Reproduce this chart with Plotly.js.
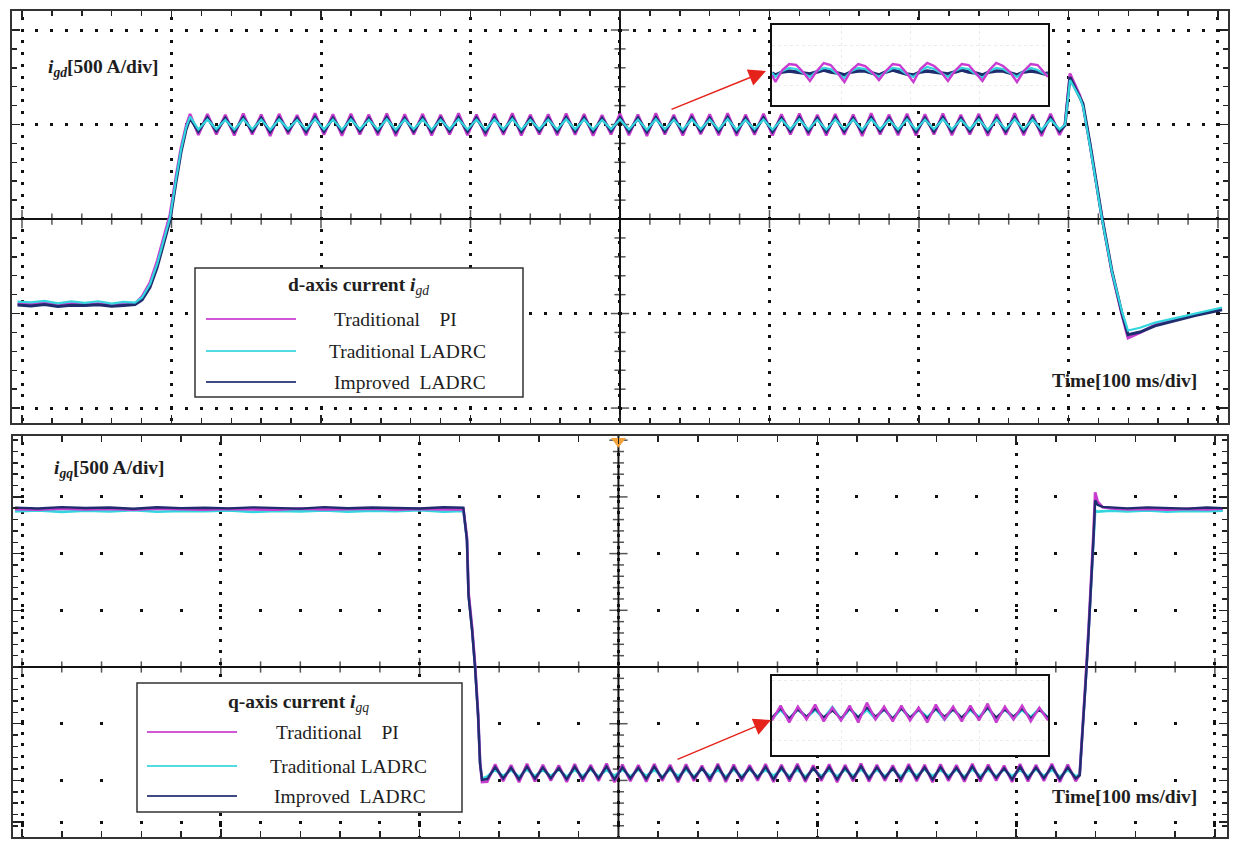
<!DOCTYPE html>
<html>
<head>
<meta charset="utf-8">
<script src="https://cdn.plot.ly/plotly-3.0.1.min.js"></script>
<style>
  html, body { margin: 0; padding: 0; background: #fff; }
  #chart { width: 1240px; height: 847px; }
</style>
</head>
<body>
<div id="chart"></div>
<script>
// Serie names / colours (legend order)
const seriesNames = ['Traditional    PI', 'Traditional LADRC', 'Improved  LADRC'];
const seriesColors = ['#c83cd0', '#33d6de', '#1f2c6e'];

// --- d-axis current, time in ms, current in A ---
const tTop = [
  -3, 6, 15, 24, 33, 42, 51, 60, 68, 75.6,
  80.3, 85.6, 90.3, 94.3, 99, 103, 106.4, 109.7, 112.4,
  118, 124, 130, 136, 142, 148, 154, 160, 166, 172,
  178, 184, 190, 196, 202, 208, 214, 220, 226, 232,
  238, 244, 250, 256, 262, 268, 274, 280, 286, 292,
  298, 304, 310, 316, 322, 328, 334, 340, 346, 352,
  358, 364, 370, 376, 382, 388, 394, 400, 406, 412,
  418, 424, 430, 436, 442, 448, 454, 460, 466, 472,
  478, 484, 490, 496, 502, 508, 514, 520, 526, 532,
  538, 544, 550, 556, 562, 568, 574, 580, 586, 592,
  598, 604, 610, 616, 622, 628, 634, 640, 646, 652,
  658, 664, 670, 676, 682, 688, 694,
  697.7, 701, 707.7, 709.7, 714.4, 722.4, 729.1, 735.8, 739.8, 747.8, 757.9, 769.9, 784.6, 802.7
];
const piTop = [
  -447, -452, -444, -455, -446, -450, -448, -453, -447, -448,
  -410, -335, -225, -110, 25, 225, 380, 492, 556,
  445, 555, 448, 551, 442, 558, 447, 553, 440, 556,
  449, 550, 444, 559, 446, 554, 441, 557, 448, 552,
  443, 558, 440, 554, 447, 556, 442, 551, 448, 559,
  444, 553, 440, 557, 446, 560, 442, 552, 448, 554,
  443, 558, 446, 556, 441, 550, 448, 557, 444, 553,
  440, 559, 447, 551, 442, 556, 449, 554, 443, 560,
  441, 552, 446, 557, 442, 554, 448, 558, 443, 551,
  442, 556, 446, 553, 440, 559, 448, 552, 444, 557,
  442, 554, 447, 558, 443, 551, 448, 556, 441, 554,
  446, 559, 443, 553, 440, 557, 445,
  505, 770, 652, 600, 390, 5, -285, -508, -630, -602, -560, -535, -505, -475
];
const ladrcTop = [
  -437, -441, -433, -446, -436, -443, -435, -447, -438, -442,
  -415, -345, -240, -125, 8, 210, 368, 483, 542,
  474, 527, 476, 525, 473, 528, 475, 526, 472, 527,
  477, 524, 474, 529, 475, 526, 473, 527, 476, 525,
  474, 528, 472, 526, 475, 527, 473, 525, 476, 528,
  474, 526, 472, 527, 475, 529, 473, 525, 476, 526,
  474, 528, 475, 527, 473, 524, 476, 527, 474, 526,
  472, 528, 475, 525, 473, 527, 476, 526, 474, 529,
  472, 525, 475, 527, 473, 526, 476, 528, 474, 525,
  473, 527, 475, 526, 472, 528, 476, 525, 474, 527,
  473, 526, 475, 528, 474, 525, 476, 527, 473, 526,
  475, 528, 474, 526, 472, 527, 475,
  500, 735, 640, 595, 385, 0, -280, -490, -590, -575, -548, -527, -500, -468
];
const impTop = [
  -455, -460, -452, -462, -456, -458, -454, -461, -457, -452,
  -428, -362, -258, -140, -8, 195, 355, 472, 533,
  463, 536, 465, 533, 462, 537, 464, 534, 461, 536,
  466, 532, 463, 538, 464, 534, 462, 536, 465, 533,
  463, 537, 461, 534, 464, 536, 462, 533, 465, 537,
  463, 534, 461, 536, 464, 538, 462, 533, 465, 534,
  463, 537, 464, 536, 462, 532, 465, 536, 463, 534,
  461, 537, 464, 533, 462, 536, 465, 534, 463, 538,
  461, 533, 464, 536, 462, 534, 465, 537, 463, 533,
  462, 536, 464, 534, 461, 537, 465, 533, 463, 536,
  462, 534, 464, 537, 463, 533, 465, 536, 462, 534,
  464, 537, 463, 534, 461, 536, 464,
  495, 750, 648, 610, 400, 10, -275, -500, -612, -598, -565, -540, -510, -480
];

// --- q-axis current ---
const tBot = [
  -3.5, 8, 20, 32, 44, 56, 68, 80, 92, 104,
  116, 128, 140, 152, 164, 176, 188, 200, 212, 222,
  223.8, 224.6, 226.4, 227.9, 229.4, 230.4, 231.4,
  234, 238, 242, 246, 250, 254, 258, 262, 266, 270,
  274, 278, 282, 286, 290, 294, 298, 302, 306, 310,
  314, 318, 322, 326, 330, 334, 338, 342, 346, 350,
  354, 358, 362, 366, 370, 374, 378, 382, 386, 390,
  394, 398, 402, 406, 410, 414, 418, 422, 426, 430,
  434, 438, 442, 446, 450, 454, 458, 462, 466, 470,
  474, 478, 482, 486, 490, 494, 498, 502, 506, 510,
  514, 518, 522, 526, 530,
  532, 533.5, 535, 536.5, 538, 539, 539.8, 541, 543.5, 548,
  556, 566, 576, 586, 596, 604
];
const piBot = [
  1392, 1388, 1396, 1390, 1394, 1387, 1397, 1391, 1389, 1395,
  1393, 1388, 1396, 1390, 1392, 1397, 1389, 1394, 1391, 1393,
  1140, 655, 345, 15, -410, -840, -1015,
  -1012, -858, -1006, -866, -1016, -854, -1009, -862, -1002, -868,
  -1014, -856, -1008, -864, -1004, -851, -1015, -860, -1007, -866,
  -1011, -855, -1003, -863, -1016, -858, -1005, -869, -1010, -853,
  -1013, -861, -1007, -865, -1001, -857, -1014, -862, -1008, -854,
  -1012, -867, -1004, -859, -1015, -864, -1006, -852, -1010, -862,
  -1003, -868, -1013, -856, -1007, -863, -1016, -858, -1005, -866,
  -1011, -854, -1008, -861, -1002, -869, -1014, -857, -1009, -864,
  -1004, -853, -1013, -860, -1007,
  -950, -560, -110, 340, 810, 1200, 1540, 1460, 1410, 1398,
  1390, 1395, 1388, 1394, 1391, 1396
];
const ladrcBot = [
  1372, 1380, 1368, 1378, 1371, 1383, 1369, 1376, 1374, 1381,
  1367, 1377, 1372, 1380, 1370, 1378, 1373, 1382, 1369, 1376,
  1130, 640, 330, 0, -420, -845, -985,
  -966, -905, -962, -908, -968, -903, -964, -907, -961, -904,
  -967, -906, -963, -902, -965, -908, -960, -905, -966, -903,
  -962, -907, -968, -904, -963, -906, -965, -902, -961, -908,
  -967, -905, -963, -903, -966, -907, -960, -904, -964, -906,
  -968, -902, -962, -908, -965, -905, -961, -903, -967, -906,
  -963, -904, -966, -908, -960, -902, -964, -907, -962, -905,
  -968, -903, -961, -906, -965, -904, -963, -907, -966, -902,
  -962, -905, -967, -908, -964,
  -945, -570, -130, 320, 790, 1170, 1380, 1370, 1375, 1378,
  1371, 1380, 1369, 1377, 1373, 1379
];
const impBot = [
  1405, 1398, 1410, 1402, 1407, 1396, 1409, 1401, 1404, 1399,
  1408, 1403, 1397, 1410, 1400, 1406, 1402, 1398, 1409, 1404,
  1115, 625, 320, -10, -430, -855, -995,
  -988, -882, -983, -888, -990, -879, -985, -886, -981, -890,
  -989, -880, -984, -887, -982, -877, -991, -885, -983, -889,
  -987, -878, -980, -886, -992, -882, -981, -891, -986, -876,
  -989, -884, -983, -888, -979, -881, -990, -885, -984, -878,
  -988, -890, -980, -883, -991, -887, -982, -875, -986, -885,
  -979, -891, -989, -880, -983, -886, -992, -882, -981, -889,
  -987, -877, -984, -884, -978, -892, -990, -880, -985, -887,
  -980, -876, -989, -884, -983,
  -955, -580, -140, 310, 780, 1160, 1470, 1430, 1412, 1405,
  1399, 1408, 1402, 1397, 1406, 1401
];

// --- zoomed insets ---
const tInsetTop = [0, 1, 3, 5, 7, 9, 11, 13, 15, 17, 19, 21, 23, 25, 27, 29, 31, 33, 35, 37, 39,
  41, 43, 45, 47, 49, 51, 53, 55, 57, 59, 61, 63, 65, 67, 69, 71, 73, 75, 77, 79, 80];
const piInsetTop = [490, 483, 495, 501, 500, 493, 484, 494, 502, 500, 492, 483, 495, 501, 499, 493, 485, 494, 501, 500, 492,
  483, 496, 502, 499, 493, 484, 494, 501, 500, 492, 484, 495, 502, 499, 493, 483, 494, 501, 500, 492, 488];
const ladrcInsetTop = [492, 488, 494, 497, 496, 492, 488, 494, 497, 496, 491, 487, 494, 497, 496, 492, 488, 493, 497, 496, 491,
  488, 494, 498, 496, 492, 488, 494, 497, 496, 491, 487, 494, 497, 496, 492, 488, 494, 497, 495, 491, 490];
const impInsetTop = [492, 490, 493, 494, 493, 492, 491, 493, 495, 493, 492, 490, 493, 494, 494, 492, 490, 493, 495, 493, 491,
  490, 493, 494, 493, 492, 491, 493, 495, 493, 492, 490, 493, 494, 494, 492, 490, 493, 494, 493, 491, 492];

const tInsetBot = [0, 2.5, 5, 7.5, 10, 12.5, 15, 17.5, 20, 22.5, 25, 27.5, 30, 32.5, 35, 37.5, 40,
  42.5, 45, 47.5, 50, 52.5, 55, 57.5, 60, 62.5, 65, 67.5, 70, 72.5, 75, 77.5, 80];
const piInsetBot = [-940, -925, -942, -926, -939, -924, -941, -927, -940, -925, -942, -922, -939, -926, -941, -925, -940,
  -927, -942, -924, -939, -926, -941, -925, -940, -923, -942, -926, -939, -925, -941, -927, -940];
const ladrcInsetBot = [-938, -929, -939, -928, -937, -929, -938, -927, -939, -928, -937, -929, -938, -928, -939, -927, -938,
  -929, -937, -928, -939, -928, -938, -929, -937, -927, -939, -928, -938, -929, -937, -928, -938];
const impInsetBot = [-937, -928, -938, -929, -936, -928, -937, -930, -938, -928, -937, -927, -936, -929, -938, -928, -937,
  -929, -938, -928, -936, -929, -937, -928, -938, -927, -937, -929, -936, -928, -938, -929, -937];

(function () {
  const W = 1240, H = 847;
  const fx = p => p / W;
  const fy = p => 1 - p / H;
  const serif = 'Liberation Serif, Times New Roman, serif';
  const ink = '#1e1e1e';

  const traces = [];

  // small tick marks across the centre axes
  function crossTicks(xs, ys, symbol, sizes, xa, ya) {
    traces.push({
      type: 'scatter', mode: 'markers', x: xs, y: ys, xaxis: xa, yaxis: ya,
      hoverinfo: 'skip', showlegend: false,
      marker: { symbol: symbol, size: sizes, color: '#111', line: { width: 1.5, color: '#111' } }
    });
  }
  function tickSet(from, to, step, major) {
    const v = [], s = [];
    for (let k = from; k <= to + 1e-9; k += step) { v.push(k); s.push(Math.abs(k % major) < 1e-9 ? 13 : 8); }
    return { v, s };
  }
  let tk = tickSet(0, 800, 20, 100);
  crossTicks(tk.v, tk.v.map(() => 0), 'line-ns', tk.s, 'x', 'y');
  tk = tickSet(-1000, 1000, 100, 500);
  crossTicks(tk.v.map(() => 400), tk.v, 'line-ew', tk.s, 'x', 'y');
  tk = tickSet(0, 600, 20, 100);
  crossTicks(tk.v, tk.v.map(() => 0), 'line-ns', tk.s, 'x2', 'y2');
  tk = tickSet(-1400, 2000, 100, 500);
  crossTicks(tk.v.map(() => 300), tk.v, 'line-ew', tk.s, 'x2', 'y2');

  function line(x, y, idx, xa, ya, w) {
    traces.push({
      type: 'scatter', mode: 'lines', x: x, y: y, xaxis: xa, yaxis: ya,
      name: seriesNames[idx], hoverinfo: 'skip', showlegend: false,
      line: { color: seriesColors[idx], width: w || 2 }
    });
  }
  // d-axis panel: PI under, improved, then traditional LADRC on top
  line(tTop, piTop, 0, 'x', 'y', 2.8);
  line(tTop, impTop, 2, 'x', 'y', 3);
  line(tTop, ladrcTop, 1, 'x', 'y', 2.2);
  // q-axis panel
  line(tBot, ladrcBot, 1, 'x2', 'y2', 2.6);
  line(tBot, piBot, 0, 'x2', 'y2', 2.8);
  line(tBot, impBot, 2, 'x2', 'y2', 2.4);
  // insets
  line(tInsetTop, impInsetTop, 2, 'x3', 'y3', 3.5);
  line(tInsetTop, ladrcInsetTop, 1, 'x3', 'y3', 2.2);
  line(tInsetTop, piInsetTop, 0, 'x3', 'y3', 2.4);
  line(tInsetBot, ladrcInsetBot, 1, 'x4', 'y4', 3);
  line(tInsetBot, impInsetBot, 2, 'x4', 'y4', 2.2);
  line(tInsetBot, piInsetBot, 0, 'x4', 'y4', 2.4);

  // trigger marker on the q-axis screen
  traces.push({
    type: 'scatter', mode: 'markers', x: [300], y: [1990], xaxis: 'x2', yaxis: 'y2',
    hoverinfo: 'skip', showlegend: false, cliponaxis: false,
    marker: { symbol: 'triangle-down', size: 13, color: '#f2a23c' }
  });

  const frame = {
    showline: true, mirror: 'allticks', linecolor: '#333', linewidth: 2,
    ticks: 'inside', ticklen: 8, tickwidth: 1.5, tickcolor: '#222',
    showticklabels: false, showgrid: true, gridcolor: '#111', gridwidth: 3,
    fixedrange: true
  };
  const insetAx = {
    showline: true, mirror: true, linecolor: '#111', linewidth: 2,
    ticks: '', showticklabels: false, zeroline: false,
    showgrid: true, gridcolor: '#ececec', gridwidth: 1, griddash: 'dot', fixedrange: true
  };

  const layout = {
    width: W, height: H,
    margin: { l: 0, r: 0, t: 0, b: 0 },
    paper_bgcolor: '#fff', plot_bgcolor: '#fff',
    showlegend: false,
    xaxis: Object.assign({}, frame, {
      domain: [fx(12), fx(1228)], range: [-6.69, 806.7], anchor: 'y',
      tickmode: 'linear', tick0: 0, dtick: 100, zeroline: false,
      griddash: '0px,5.7px,3px,3.1px',
      minor: { tickmode: 'linear', tick0: 0, dtick: 20, ticks: 'inside', ticklen: 5, tickwidth: 1.5, tickcolor: '#222', showgrid: false }
    }),
    yaxis: Object.assign({}, frame, {
      domain: [fy(423), fy(11)], range: [-1079, 1100.5], anchor: 'x',
      tickmode: 'linear', tick0: 0, dtick: 500,
      zeroline: true, zerolinecolor: '#111', zerolinewidth: 2,
      griddash: '0px,8.5px,3px,3.45px',
      minor: { tickmode: 'linear', tick0: 0, dtick: 100, ticks: 'inside', ticklen: 5, tickwidth: 1.5, tickcolor: '#222', showgrid: false }
    }),
    xaxis2: Object.assign({}, frame, {
      domain: [fx(13), fx(1227)], range: [-4.53, 606.1], anchor: 'y2',
      tickmode: 'linear', tick0: 0, dtick: 100, zeroline: false,
      griddash: '0px,5.5px,3px,3.1px',
      minor: { tickmode: 'linear', tick0: 0, dtick: 20, ticks: 'inside', ticklen: 6, tickwidth: 1.5, tickcolor: '#222', showgrid: false }
    }),
    yaxis2: Object.assign({}, frame, {
      domain: [fy(837), fy(436)], range: [-1499, 2037], anchor: 'x2',
      tickmode: 'array', tickvals: [-1367, -1000, -500, 500, 1000, 1500],
      zeroline: true, zerolinecolor: '#111', zerolinewidth: 2,
      griddash: '0px,7.5px,3px,29.26px',
      minor: { tickmode: 'linear', tick0: 0, dtick: 100, ticks: 'inside', ticklen: 5, tickwidth: 1.5, tickcolor: '#222', showgrid: false }
    }),
    xaxis3: Object.assign({}, insetAx, { domain: [fx(772), fx(1048)], range: [0, 80], anchor: 'y3', dtick: 20 }),
    yaxis3: Object.assign({}, insetAx, { domain: [fy(105), fy(25)], range: [460, 540], anchor: 'x3', dtick: 20 }),
    xaxis4: Object.assign({}, insetAx, { domain: [fx(772), fx(1048)], range: [0, 80], anchor: 'y4', dtick: 20 }),
    yaxis4: Object.assign({}, insetAx, { domain: [fy(755), fy(676)], range: [-975, -895], anchor: 'x4', dtick: 20 }),
    shapes: [
      { type: 'line', xref: 'x', yref: 'y domain', x0: 400, x1: 400, y0: 0, y1: 1, line: { color: '#111', width: 2 }, layer: 'below' },
      { type: 'line', xref: 'x2', yref: 'y2 domain', x0: 300, x1: 300, y0: 0, y1: 1, line: { color: '#111', width: 2 }, layer: 'below' },
      { type: 'line', xref: 'x3', yref: 'y3 domain', x0: 42, x1: 42, y0: 0, y1: 1, line: { color: '#9a9a9a', width: 1, dash: 'dot' }, layer: 'below' },
      { type: 'line', xref: 'x4', yref: 'y4 domain', x0: 39.4, x1: 39.4, y0: 0, y1: 1, line: { color: '#9a9a9a', width: 1, dash: 'dot' }, layer: 'below' }
    ],
    annotations: []
  };

  const font = { family: serif, size: 19.5, color: ink };
  function label(x, y, text, anchor) {
    layout.annotations.push({
      xref: 'paper', yref: 'paper', x: fx(x), y: fy(y), xanchor: anchor || 'left', yanchor: 'middle',
      text: text, showarrow: false, font: font
    });
  }
  label(46, 68, '<b><i>i</i><sub><i>gd</i></sub>[500 A/div]</b>');
  label(52, 469, '<b><i>i</i><sub><i>gq</i></sub>[500 A/div]</b>');
  label(1050, 380, '<b>Time[100 ms/div]</b>');
  label(1050, 796, '<b>Time[100 ms/div]</b>');

  function legend(box, title, titleX, titleY, rowsY, lineX, textX) {
    layout.shapes.push({
      type: 'rect', xref: 'paper', yref: 'paper', x0: fx(box[0]), x1: fx(box[2]), y0: fy(box[3]), y1: fy(box[1]),
      fillcolor: '#fff', line: { color: '#333', width: 1.5 }, layer: 'above'
    });
    label(titleX, titleY, title, 'center');
    rowsY.forEach((y, i) => {
      layout.shapes.push({
        type: 'line', xref: 'paper', yref: 'paper', x0: fx(lineX[0]), x1: fx(lineX[1]), y0: fy(y), y1: fy(y),
        line: { color: seriesColors[i], width: 1.8 }, opacity: 0.85, layer: 'above'
      });
      label(textX[i], y, seriesNames[i].replace(/ /g, '\u00a0'));
    });
  }
  legend([195, 268, 523, 397], '<b>d-axis current <i>i</i></b><sub><i>gd</i></sub>', 359, 286,
    [319, 351, 382], [206, 296], [332, 327, 332]);
  legend([137, 683, 462, 812], '<b>q-axis current <i>i</i></b><sub><i>gq</i></sub>', 298, 703,
    [732, 766, 796], [147, 237], [274, 268, 272]);

  function arrow(hx, hy, ax, ay) {
    layout.annotations.push({
      xref: 'paper', yref: 'paper', x: fx(hx), y: fy(hy), ax: ax, ay: ay, text: '',
      showarrow: true, arrowhead: 2, arrowsize: 2.3, arrowwidth: 1.5, arrowcolor: '#e5231b', standoff: 0
    });
  }
  arrow(766, 71, -96, 39);
  arrow(771, 720, -95, 40);

  Plotly.newPlot('chart', traces, layout, { displayModeBar: false, staticPlot: true });
})();
</script>
</body>
</html>
